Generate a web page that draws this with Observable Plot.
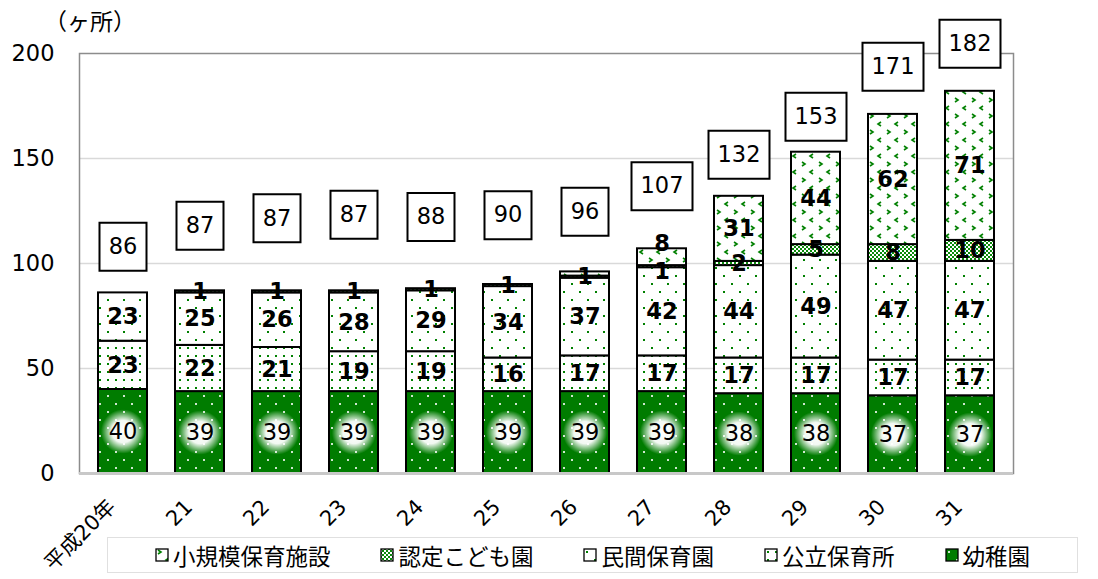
<!DOCTYPE html>
<html><head><meta charset="utf-8">
<script src="https://cdn.jsdelivr.net/npm/d3@7"></script>
<script src="https://cdn.jsdelivr.net/npm/@observablehq/plot@0.6"></script>
<style>
body{margin:0;background:#fff;font-family:"DejaVu Sans","Noto Sans CJK JP",sans-serif;}
#wrap{position:relative;width:1098px;height:579px;overflow:hidden;}
#unit{position:absolute;left:44px;top:3px;font-size:23px;font-family:"Noto Sans CJK JP",sans-serif;color:#000;}
#legend{position:absolute;left:107px;top:537px;width:971px;height:36px;border:1px solid #e0e0e0;box-sizing:border-box;display:flex;justify-content:center;align-items:center;gap:50px;font-size:22.5px;font-family:"Noto Sans CJK JP",sans-serif;color:#000;}
.item{display:flex;align-items:center;gap:4px;}
.item svg{display:block}
</style></head>
<body><div id="wrap">
<svg width="0" height="0" style="position:absolute"><defs>
 <pattern id="pYou" width="16" height="16" patternUnits="userSpaceOnUse">
  <rect width="16" height="16" fill="#007c00"/>
  <rect x="3" y="3" width="2" height="2" fill="#cfe6cf"/>
  <rect x="11" y="11" width="2" height="2" fill="#cfe6cf"/>
 </pattern>
 <pattern id="pKou" width="8" height="8" patternUnits="userSpaceOnUse">
  <rect width="8" height="8" fill="#fff"/>
  <rect x="3" y="3" width="2" height="2" fill="#008000"/>
 </pattern>
 <pattern id="pMin" width="16" height="16" patternUnits="userSpaceOnUse">
  <rect width="16" height="16" fill="#fff"/>
  <rect x="3" y="3" width="2" height="2" fill="#008000"/>
  <rect x="11" y="11" width="2" height="2" fill="#008000"/>
 </pattern>
 <pattern id="pNin" width="4" height="4" patternUnits="userSpaceOnUse">
  <rect width="4" height="4" fill="#fff"/>
  <rect x="0" y="0" width="2" height="2" fill="#0a8a0a"/>
  <rect x="2" y="2" width="2" height="2" fill="#0a8a0a"/>
 </pattern>
 <pattern id="pSho" width="17" height="16" patternUnits="userSpaceOnUse">
  <rect width="17" height="16" fill="#fff"/>
  <path d="M3,2 L6,4 L3,6" fill="none" stroke="#008000" stroke-width="1.6"/>
  <path d="M14,10 L11,12 L14,14" fill="none" stroke="#008000" stroke-width="1.6"/>
 </pattern>
 <radialGradient id="glow">
  <stop offset="0" stop-color="#fff" stop-opacity="1"/>
  <stop offset="0.5" stop-color="#fff" stop-opacity="0.95"/>
  <stop offset="1" stop-color="#fff" stop-opacity="0"/>
 </radialGradient>
</defs></svg>
<div id="chart"></div>
<div id="unit">（ヶ所）</div>
<div id="legend"></div>
</div>
<script>
const years = ["平成20年","21","22","23","24","25","26","27","28","29","30","31"];
const seriesNames = ["幼稚園","公立保育所","民間保育園","認定こども園","小規模保育施設"];
const youchien = [40,39,39,39,39,39,39,39,38,38,37,37];
const kouritsu = [23,22,21,19,19,16,17,17,17,17,17,17];
const minkan   = [23,25,26,28,29,34,37,42,44,49,47,47];
const nintei   = [0,1,1,1,1,1,1,1,2,5,8,10];
const shoukibo = [0,0,0,0,0,0,2,8,31,44,62,71];
const totals   = [86,87,87,87,88,90,96,107,132,153,171,182];
// hidden anchor series on which the total labels sit (in ヶ所 units)
const totalAnchor = [108,118,121.5,123.2,122.2,123,124.6,136.8,151.8,169.9,193.7,204.6];
const legendOrder = ["小規模保育施設","認定こども園","民間保育園","公立保育所","幼稚園"];
const patterns = ["url(#pYou)","url(#pKou)","url(#pMin)","url(#pNin)","url(#pSho)"];

const seriesValues = [youchien,kouritsu,minkan,nintei,shoukibo];
const data = [];
years.forEach((y,i)=>{
  seriesNames.forEach((s,j)=>{
    const v = seriesValues[j][i];
    if (v > 0) data.push({year:y, series:s, value:v, i});
  });
});
const youData = data.filter(d=>d.series==="幼稚園");
const totalData = years.map((y,i)=>({year:y, total:totals[i], anchor:totalAnchor[i]}));

const boxSym = w => ({draw(ctx){ ctx.rect(-w/2,-24,w,48); }});
const smallTopYear = i => shoukibo[i]>=5 && shoukibo[i]<10;
const isSmallTop = d => d.series==="小規模保育施設" && smallTopYear(d.i);
const isCrowdedNin = d => d.series==="認定こども園" && smallTopYear(d.i);
const boldText = d => (d.series==="幼稚園" || (d.series==="小規模保育施設" && d.value<5) || isSmallTop(d) || isCrowdedNin(d)) ? "" : String(d.value);

const chart = Plot.plot({
  width:1098, height:579,
  marginLeft:79, marginRight:85, marginTop:53, marginBottom:106,
  style:{fontFamily:"DejaVu Sans, Noto Sans CJK JP, sans-serif", fontSize:"20px", background:"white", color:"black", overflow:"visible"},
  x:{domain:years, paddingInner:0.364, paddingOuter:0.182},
  y:{domain:[0,200]},
  color:{type:"ordinal", domain:seriesNames, range:patterns},
  marks:[
    Plot.gridY([50,100,150],{stroke:"#d9d9d9", strokeOpacity:1, strokeWidth:1.5}),
    Plot.frame({stroke:"#8c8c8c", strokeWidth:1.5}),
    Plot.axisY({ticks:[0,50,100,150,200], tickSize:0, tickPadding:25, fontSize:22.5, label:null}),
    Plot.axisX({tickRotate:-45, tickSize:0, tickPadding:30, dx:-11, fontSize:21, label:null}),
    Plot.barY(data,{x:"year", y:"value", fill:"series", z:"series", stroke:"black", strokeWidth:2}),
    Plot.ruleY([0],{stroke:"#c8c8c8", strokeWidth:3}),
    Plot.dot(youData, Plot.stackY({x:"year", y:"value", r:25, fill:"url(#glow)", stroke:null, symbol:"square"})),
    Plot.text(youData, Plot.stackY({x:"year", y:"value", text:d=>String(d.value), fontSize:22.5, fill:"black"})),
    Plot.text(data, Plot.stackY({x:"year", y:"value", z:"series", text:boldText,
      fontSize:22.5, fontWeight:"bold", fill:"black"})),
    Plot.text(data, Plot.stackY({x:"year", y:"value", z:"series",
      text:d=> isSmallTop(d) ? String(d.value) : "", dy:-13,
      fontSize:22.5, fontWeight:"bold", fill:"black"})),
    Plot.text(data, Plot.stackY({x:"year", y:"value", z:"series",
      text:d=> isCrowdedNin(d) ? String(d.value) : "", dy:5,
      fontSize:22.5, fontWeight:"bold", fill:"black"})),
    Plot.dot(totalData.filter(d=>d.total<100),{x:"year", y:"anchor", symbol:boxSym(47), fill:"white", stroke:"black", strokeWidth:2}),
    Plot.dot(totalData.filter(d=>d.total>=100),{x:"year", y:"anchor", symbol:boxSym(61), fill:"white", stroke:"black", strokeWidth:2}),
    Plot.text(totalData,{x:"year", y:"anchor", text:d=>String(d.total), fontSize:22.5, fill:"black"})
  ]
});
document.getElementById("chart").appendChild(chart);

const leg = document.getElementById("legend");
legendOrder.forEach(name=>{
  const idx = seriesNames.indexOf(name);
  const it = document.createElement("div");
  it.className = "item";
  it.innerHTML = `<svg width="14" height="14"><rect x="1" y="1" width="12" height="12" fill="${patterns[idx]}" stroke="black" stroke-width="1.3"/></svg><span>${name}</span>`;
  leg.appendChild(it);
});
</script>
</body></html>
